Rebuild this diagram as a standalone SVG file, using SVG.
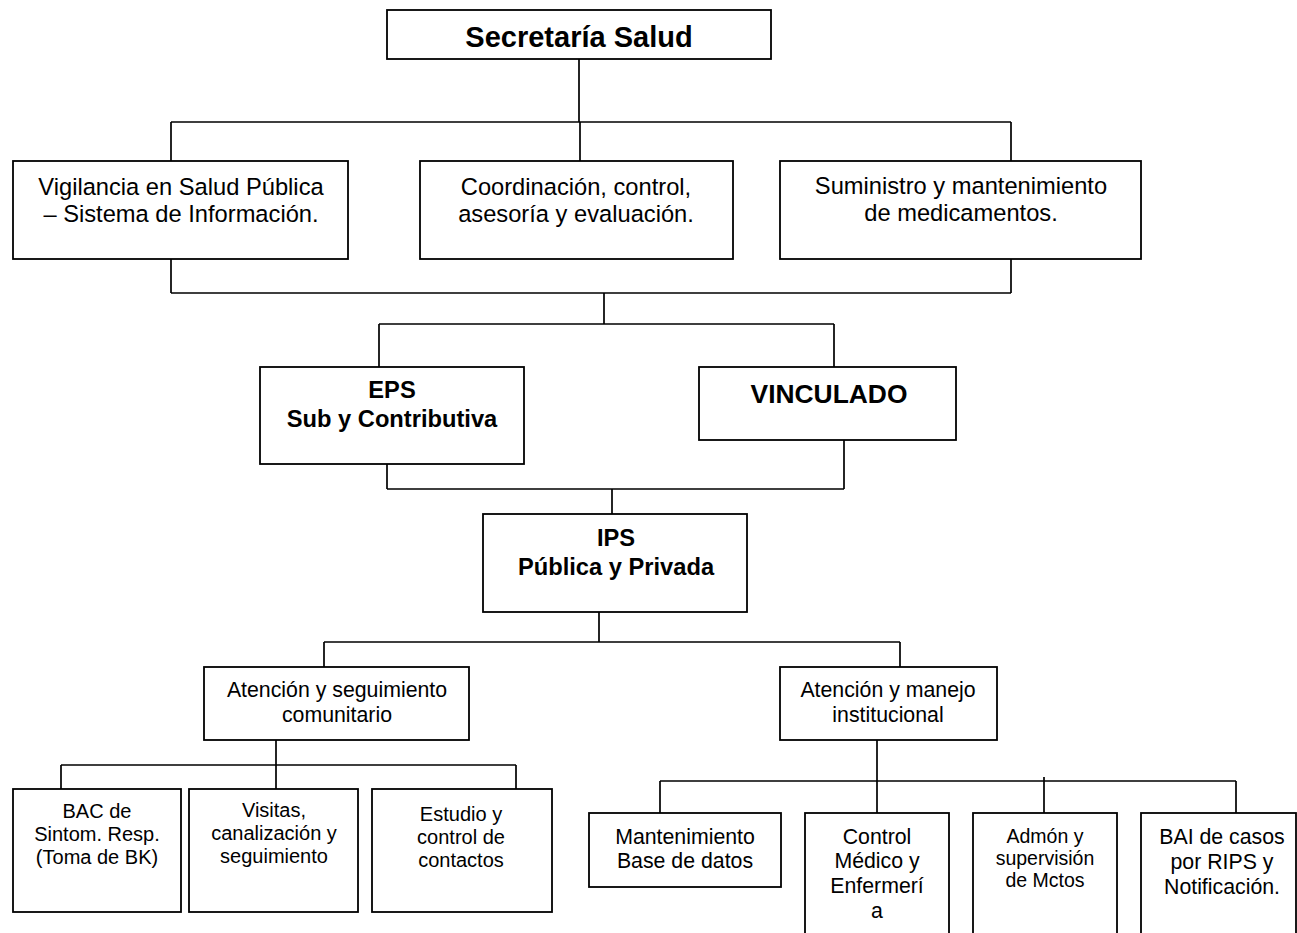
<svg xmlns="http://www.w3.org/2000/svg" width="1297" height="933" viewBox="0 0 1297 933">
<style>
.box{fill:#fff;stroke:#000;stroke-width:1.8}
.ln{fill:none;stroke:#000;stroke-width:1.7}
text{font-family:"Liberation Sans",Arial,sans-serif;fill:#000;text-anchor:middle}
.b{font-weight:bold}
.t29{font-size:29px}
.t24{font-size:23.7px}
.t26{font-size:26.4px}
.t21{font-size:21.3px}
.t20{font-size:20px}
.t195{font-size:19.5px}
</style>
<rect width="1297" height="933" fill="#fff"/>
<g id="connectors">
<path class="ln" d="M579 59V122M171 122H1011M171 122V161M580 122V161M1011 122V161"/>
<path class="ln" d="M171 259V293M1011 259V293M171 293H1011M604 293V324M379 324H834M379 324V367M834 324V367"/>
<path class="ln" d="M387 464V489M844 440V489M387 489H844M612 489V514"/>
<path class="ln" d="M599 612V642M324 642H900M324 642V667M900 642V667"/>
<path class="ln" d="M276 740V789M61 765H516M61 765V789M516 765V789"/>
<path class="ln" d="M877 740V813M660 781H1236M660 781V813M1044 777V813M1236 781V813"/>
</g>
<g id="secretaria"><rect class="box" x="387" y="10" width="384" height="49"/><text class="b t29" x="579" y="47">Secretaría Salud</text></g>
<g id="vigilancia"><rect class="box" x="13" y="161" width="335" height="98"/><text class="t24" x="181" y="195">Vigilancia en Salud Pública</text><text class="t24" x="181" y="222">– Sistema de Información.</text></g>
<g id="coordinacion"><rect class="box" x="420" y="161" width="313" height="98"/><text class="t24" x="576" y="195">Coordinación, control,</text><text class="t24" x="576" y="222">asesoría y evaluación.</text></g>
<g id="suministro"><rect class="box" x="780" y="161" width="361" height="98"/><text class="t24" x="961" y="194">Suministro y mantenimiento</text><text class="t24" x="961" y="221">de medicamentos.</text></g>
<g id="eps"><rect class="box" x="260" y="367" width="264" height="97"/><text class="b t24" x="392" y="398">EPS</text><text class="b t24" x="392" y="427">Sub y Contributiva</text></g>
<g id="vinculado"><rect class="box" x="699" y="367" width="257" height="73"/><text class="b t26" x="829" y="403">VINCULADO</text></g>
<g id="ips"><rect class="box" x="483" y="514" width="264" height="98"/><text class="b t24" x="616" y="546">IPS</text><text class="b t24" x="616" y="575">Pública y Privada</text></g>
<g id="atencion-comunitario"><rect class="box" x="204" y="667" width="265" height="73"/><text class="t21" x="337" y="697">Atención y seguimiento</text><text class="t21" x="337" y="722">comunitario</text></g>
<g id="atencion-institucional"><rect class="box" x="780" y="667" width="217" height="73"/><text class="t21" x="888" y="697">Atención y manejo</text><text class="t21" x="888" y="722">institucional</text></g>
<g id="bac"><rect class="box" x="13" y="789" width="168" height="123"/><text class="t20" x="97" y="818">BAC de</text><text class="t20" x="97" y="841">Sintom. Resp.</text><text class="t20" x="97" y="864">(Toma de BK)</text></g>
<g id="visitas"><rect class="box" x="189" y="789" width="169" height="123"/><text class="t20" x="274" y="817">Visitas,</text><text class="t20" x="274" y="840">canalización y</text><text class="t20" x="274" y="863">seguimiento</text></g>
<g id="estudio"><rect class="box" x="372" y="789" width="180" height="123"/><text class="t20" x="461" y="821">Estudio y</text><text class="t20" x="461" y="844">control de</text><text class="t20" x="461" y="867">contactos</text></g>
<g id="mantenimiento"><rect class="box" x="589" y="813" width="192" height="74"/><text class="t21" x="685" y="844">Mantenimiento</text><text class="t21" x="685" y="868">Base de datos</text></g>
<g id="control"><rect class="box" x="805" y="813" width="144" height="130"/><text class="t21" x="877" y="844">Control</text><text class="t21" x="877" y="868">Médico y</text><text class="t21" x="877" y="893">Enfermerí</text><text class="t21" x="877" y="918">a</text></g>
<g id="admon"><rect class="box" x="973" y="813" width="144" height="130"/><text class="t195" x="1045" y="843">Admón y</text><text class="t195" x="1045" y="865">supervisión</text><text class="t195" x="1045" y="887">de Mctos</text></g>
<g id="bai"><rect class="box" x="1141" y="813" width="155" height="130"/><text class="t21" x="1222" y="844">BAI de casos</text><text class="t21" x="1222" y="869">por RIPS y</text><text class="t21" x="1222" y="894">Notificación.</text></g>
</svg>
